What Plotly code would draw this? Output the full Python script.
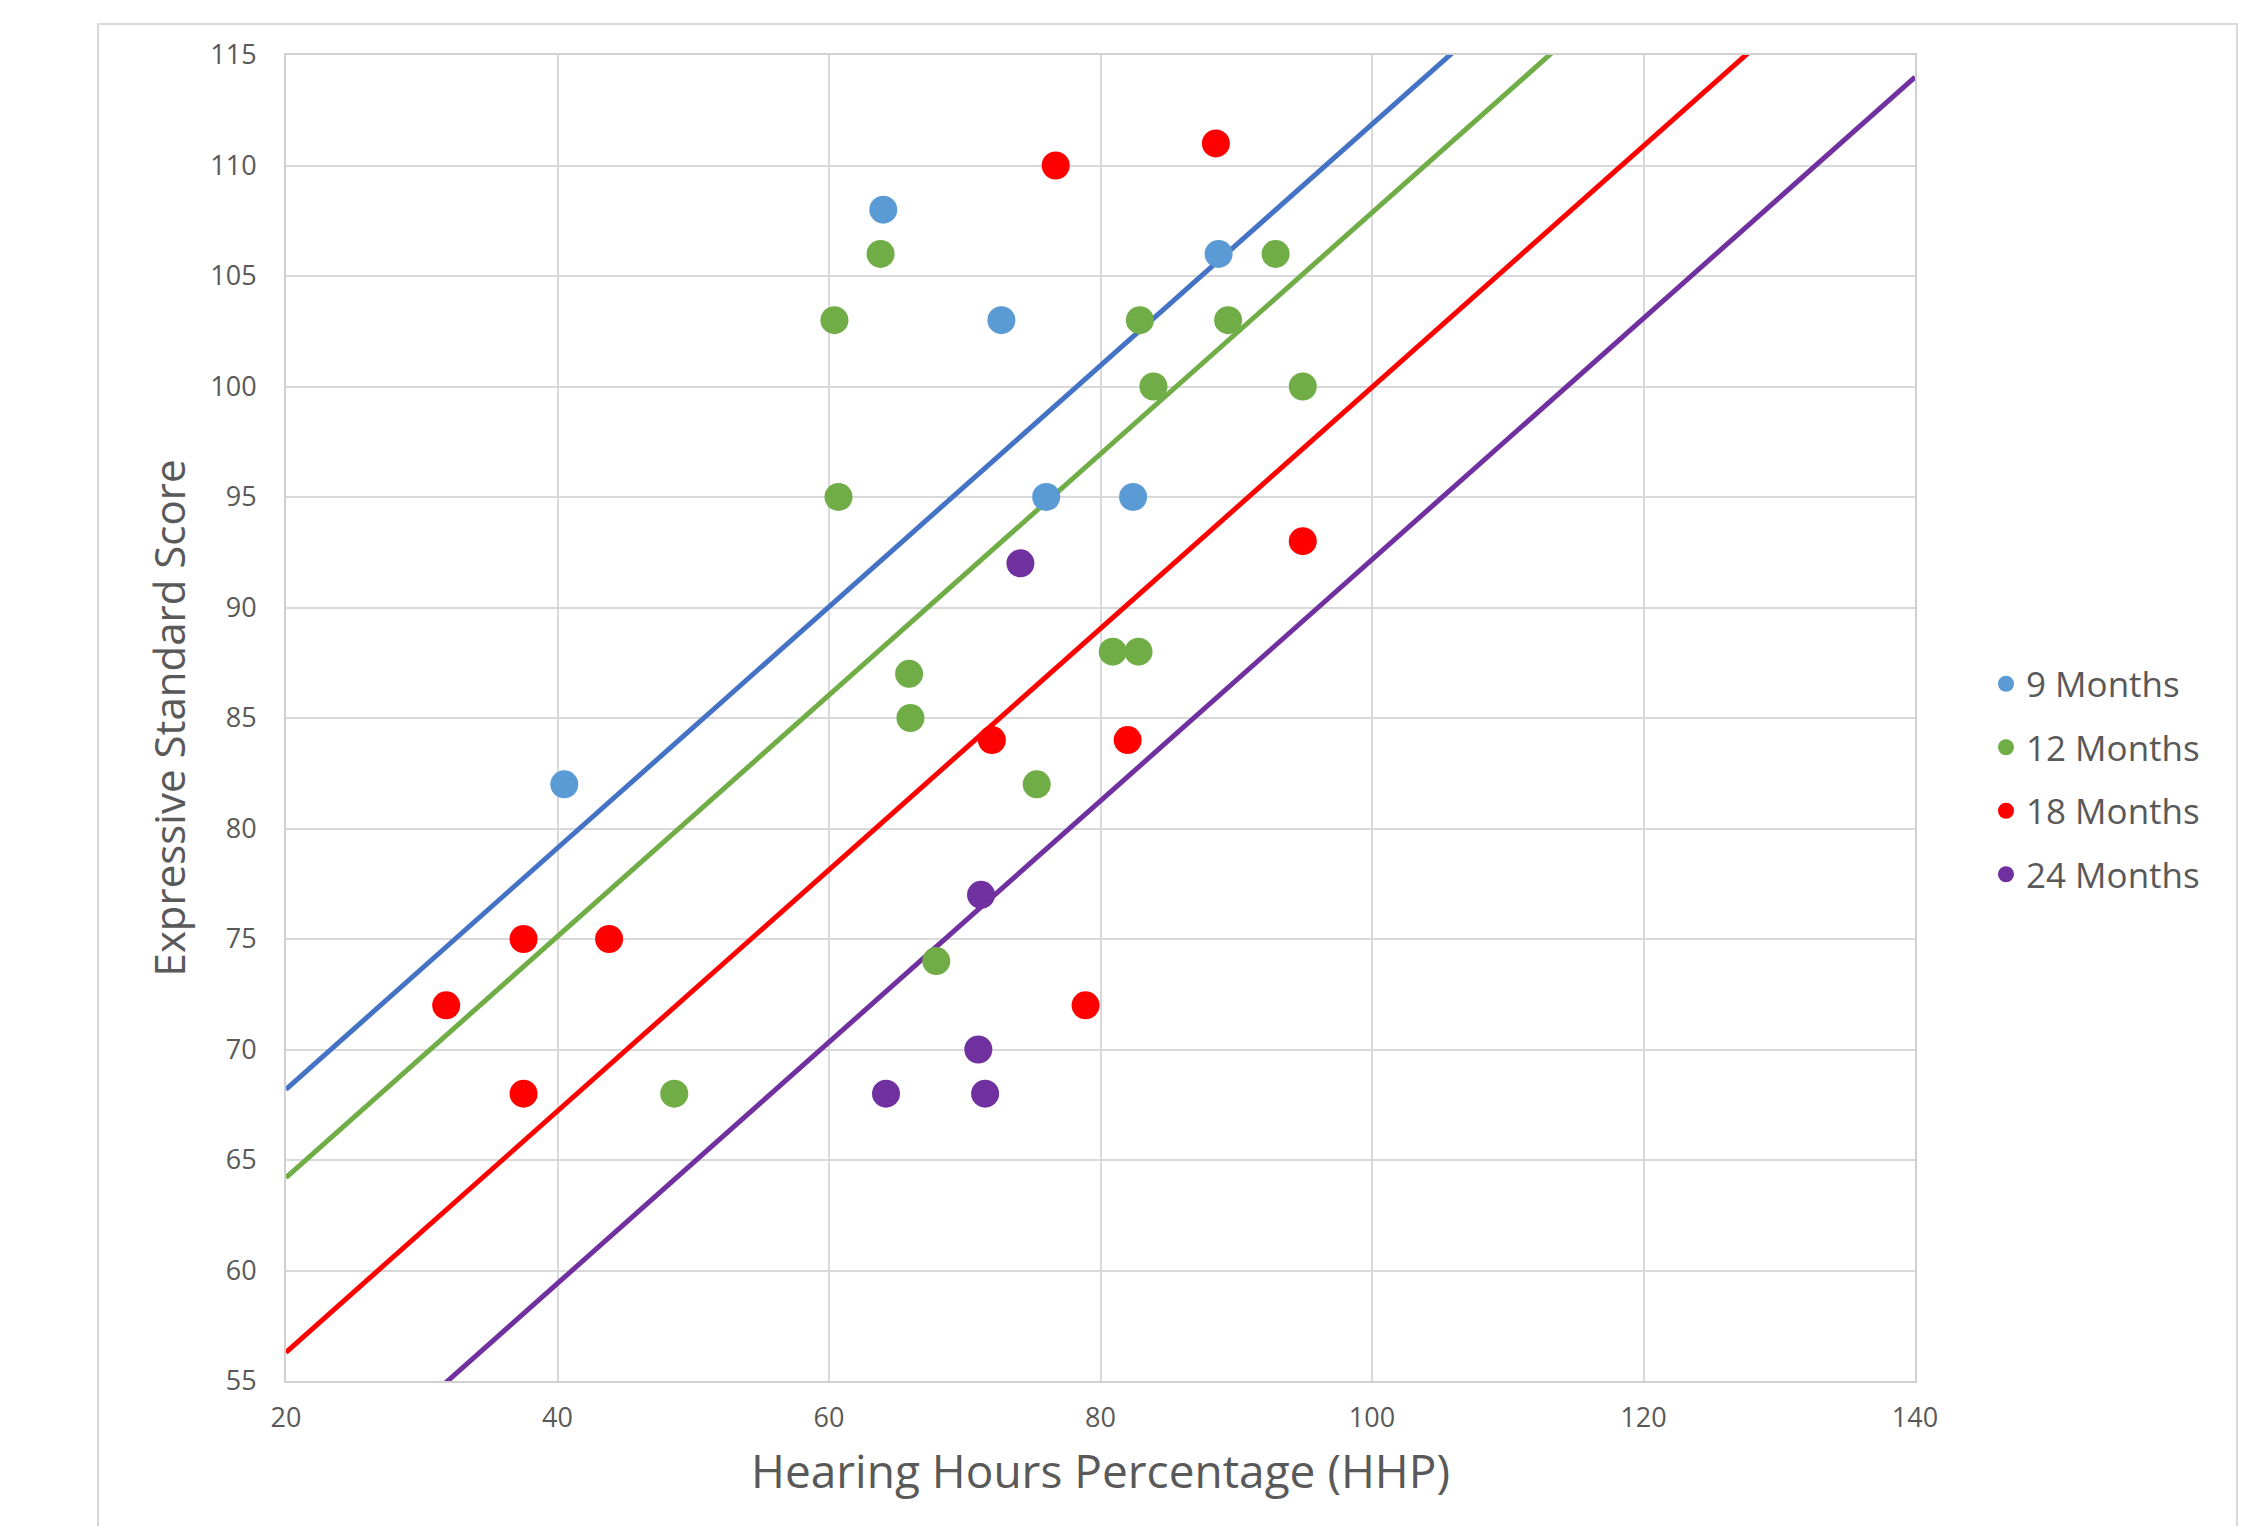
import plotly.graph_objects as go

# ---- data ----
hhp_9 = [40.5, 64.0, 72.7, 88.7, 76.0, 82.4]
score_9 = [82, 108, 103, 106, 95, 95]

hhp_12 = [63.8, 60.4, 60.7, 82.9, 83.9, 89.4, 92.9, 94.9, 65.9, 66.0, 80.9, 82.8, 75.3, 67.9, 48.6]
score_12 = [106, 103, 95, 103, 100, 103, 106, 100, 87, 85, 88, 88, 82, 74, 68]

hhp_18 = [76.7, 88.5, 94.9, 72.0, 82.0, 78.9, 31.8, 37.5, 43.8, 37.5]
score_18 = [110, 111, 93, 84, 84, 72, 72, 75, 75, 68]

hhp_24 = [74.1, 71.2, 71.0, 64.2, 71.5]
score_24 = [92, 77, 70, 68, 68]

trend_x = [20, 140]
trend_9 = [68.2, 133.7]
trend_12 = [64.2, 129.7]
trend_18 = [56.3, 121.8]
trend_24 = [48.5, 114.0]

series_names = ["9 Months", "12 Months", "18 Months", "24 Months"]
x_ticks = [20, 40, 60, 80, 100, 120, 140]
y_ticks = [55, 60, 65, 70, 75, 80, 85, 90, 95, 100, 105, 110, 115]

point_colors = ["#5B9BD5", "#70AD47", "#FF0000", "#7030A0"]
line_colors = ["#4472C4", "#70AD47", "#FF0000", "#7030A0"]

FONT = "Open Sans"
TXT = "#595959"

fig = go.Figure()

trend_sets = [trend_9, trend_12, trend_18, trend_24]
for ty, lc in zip(trend_sets, line_colors):
    fig.add_trace(go.Scatter(x=trend_x, y=ty, mode="lines",
                             line=dict(color=lc, width=5),
                             showlegend=False, hoverinfo="skip"))

point_sets = [(hhp_9, score_9), (hhp_12, score_12), (hhp_18, score_18), (hhp_24, score_24)]
for (xs, ys), name, pc in zip(point_sets, series_names, point_colors):
    fig.add_trace(go.Scatter(x=xs, y=ys, mode="markers", name=name,
                             legendgroup=name,
                             marker=dict(color=pc, size=28, line=dict(width=0))))

W, H = 2256, 1526
OFF = 8  # page body margin
L, R, T, B = 286 - OFF, 1915 - OFF, 55 - OFF, 1381 - OFF
pw, ph = R - L, B - T

def px(xp):
    return (xp - OFF - L) / pw

def py(yp):
    return (B - (yp - OFF)) / ph

fig.update_layout(
    width=W, height=H,
    margin=dict(l=L, r=W - R, t=T, b=H - B, autoexpand=False),
    paper_bgcolor="white", plot_bgcolor="white",
    font=dict(family=FONT, color=TXT),
    showlegend=True,
    legend=dict(x=px(1986), xanchor="left", y=py(779), yanchor="middle",
                font=dict(family=FONT, size=35, color=TXT),
                traceorder="grouped", tracegroupgap=15,
                itemwidth=30, bgcolor="rgba(0,0,0,0)"),
    shapes=[dict(type="rect", xref="paper", yref="paper",
                 x0=px(98), x1=px(2237), y0=py(1560), y1=py(24),
                 line=dict(color="#D9D9D9", width=2), layer="below")],
)

fig.update_xaxes(range=[20, 140], tickvals=x_ticks, showgrid=True,
                 gridcolor="#D9D9D9", gridwidth=2, zeroline=False,
                 showline=True, linecolor="#D0D0D0", linewidth=2, mirror=True,
                 ticks="", tickfont=dict(family=FONT, size=27, color=TXT),
                 ticklabelstandoff=12,
                 title=dict(text="Hearing Hours Percentage (HHP)",
                            font=dict(family=FONT, size=46, color=TXT), standoff=21))
fig.update_yaxes(range=[55, 115], tickvals=y_ticks, showgrid=True,
                 gridcolor="#D9D9D9", gridwidth=2, zeroline=False,
                 showline=True, linecolor="#D0D0D0", linewidth=2, mirror=True,
                 ticks="", tickfont=dict(family=FONT, size=27, color=TXT),
                 ticklabelstandoff=22,
                 title=dict(text="Expressive Standard Score",
                            font=dict(family=FONT, size=42, color=TXT), standoff=12))

fig.write_html("out.html")
